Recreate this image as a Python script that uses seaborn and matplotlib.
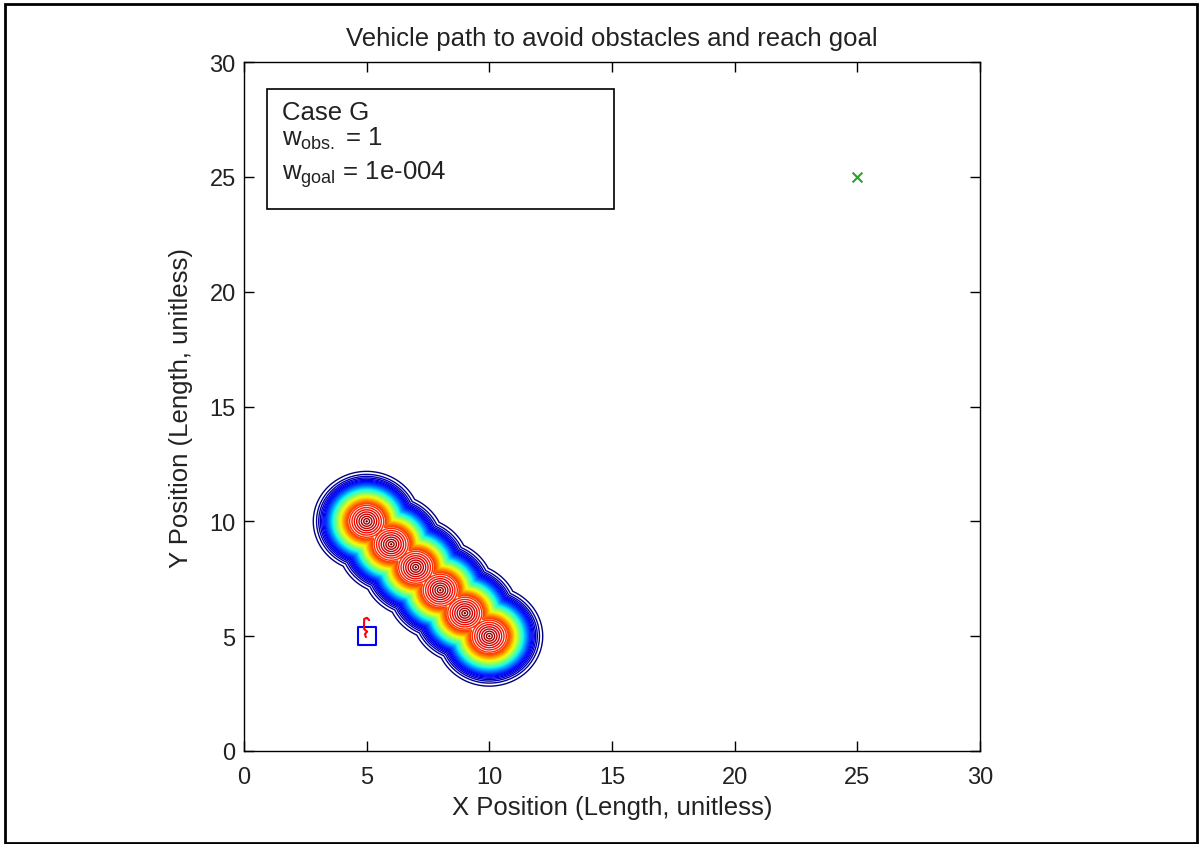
import numpy as np
import pandas as pd
import matplotlib
matplotlib.use("Agg")
import matplotlib.pyplot as plt
from matplotlib.patches import Rectangle
import seaborn as sns

# Obstacle centres
obs_x = [5, 6, 7, 8, 9, 10]
obs_y = [10, 9, 8, 7, 6, 5]

# Vehicle start, goal, and travelled path
start_x, start_y = [5.0], [5.0]
goal_x, goal_y = [25.0], [25.0]
path_x = [4.97, 4.93, 5.02, 4.90, 4.89, 4.90, 5.01, 5.10]
path_y = [4.96, 5.09, 5.20, 5.30, 5.44, 5.75, 5.80, 5.70]

sns.set_style("white")
plt.rcParams["font.family"] = ["Liberation Sans", "DejaVu Sans"]
plt.rcParams["mathtext.fontset"] = "custom"
plt.rcParams["mathtext.rm"] = "Liberation Sans"
plt.rcParams["mathtext.it"] = "Liberation Sans"

TXT = "#222222"

fig = plt.figure(figsize=(12, 8.45), dpi=100)
ax = fig.add_axes([244 / 1200, 93 / 845, 736 / 1200, 689 / 845])

# Obstacle potential field (strongest obstacle at each grid point);
# a conical cap keeps the contours running right into each centre
gx = np.linspace(0, 30, 601)
gy = np.linspace(0, 30, 601)
X, Y = np.meshgrid(gx, gy)
Z = np.zeros_like(X)
for ox, oy in zip(obs_x, obs_y):
    d = np.hypot(X - ox, Y - oy)
    z = np.minimum(np.exp(-(d / 1.38) ** 3.0), 1.0 - 0.2 * d)
    Z = np.maximum(Z, z)
levels = np.linspace(0.02, 0.995, 52)
ax.contour(X, Y, Z, levels=levels, cmap="jet", linewidths=1.0)

# Path, start and goal
path_df = pd.DataFrame({"x": path_x, "y": path_y})
sns.lineplot(data=path_df, x="x", y="y", sort=False, color="red",
             linewidth=1.5, ax=ax, estimator=None)
sns.scatterplot(x=start_x, y=start_y, marker="s", s=170, facecolor="none",
                edgecolor="blue", linewidth=1.5, ax=ax)
sns.scatterplot(x=goal_x, y=goal_y, marker="x", s=50, color="#2ca02c",
                linewidth=1.5, ax=ax)

ax.set_xlim(0, 30)
ax.set_ylim(0, 30)
ax.set_xticks(range(0, 31, 5))
ax.set_yticks(range(0, 31, 5))
ax.tick_params(direction="in", length=7, width=1, labelsize=17,
               top=True, right=True, bottom=True, left=True, colors="black",
               labelcolor=TXT)
ax.tick_params(axis="x", pad=11)
ax.tick_params(axis="y", pad=6)
for sp in ax.spines.values():
    sp.set_visible(True)
    sp.set_color("black")
    sp.set_linewidth(1)

ax.set_xlabel("X Position (Length, unitless)", fontsize=18.5, labelpad=5,
              color=TXT)
ax.set_ylabel("Y Position (Length, unitless)", fontsize=18.5, labelpad=12,
              color=TXT)
ax.set_title("Vehicle path to avoid obstacles and reach goal", fontsize=18.5,
             pad=12, color=TXT)

# Annotation box
ax.add_patch(Rectangle((0.94, 23.6), 14.14, 5.22, facecolor="white",
                       edgecolor="black", linewidth=1.2, zorder=5))
ax.text(1.55, 27.82, "Case G", fontsize=18.5, va="center", zorder=6,
        color=TXT)
ax.text(1.55, 26.69, r"w$_{\mathrm{obs.}}$ = 1", fontsize=18.5, va="center",
        zorder=6, color=TXT)
ax.text(1.55, 25.16, r"w$_{\mathrm{goal}}$ = 1e-004", fontsize=18.5,
        va="center", zorder=6, color=TXT)

# Figure frame
fig.patches.append(Rectangle((5 / 1200, 1 / 845), 1192 / 1200, 839 / 845,
                             transform=fig.transFigure, fill=False,
                             edgecolor="black", linewidth=2))

fig.savefig("out.png", dpi=100)
